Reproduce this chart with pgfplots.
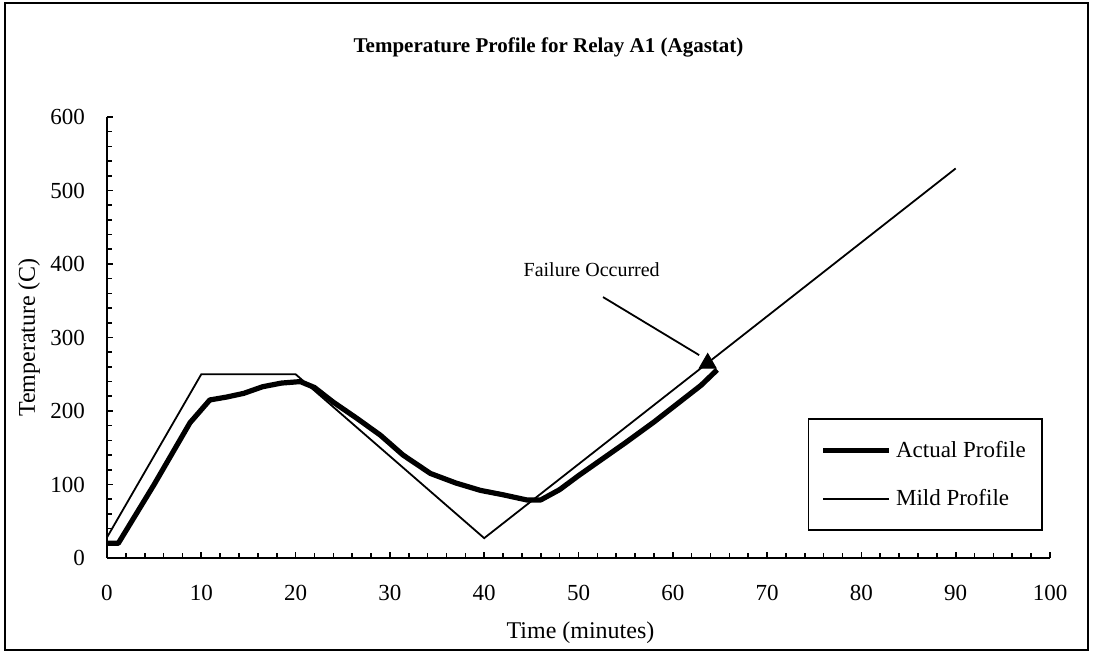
\documentclass[border=0pt]{standalone}
\usepackage{pgfplots}
\pgfplotsset{compat=1.18}
\usepackage{fontspec}
\setmainfont{Liberation Serif}
\begin{document}
\begin{tikzpicture}
\begin{axis}[
  scale only axis, width=471.5pt, height=220.5pt,
  xmin=0, xmax=100, ymin=0, ymax=600,
  axis x line*=bottom, axis y line*=left,
  axis line style={line width=1.1pt, -},
  xtick={0,10,...,100}, ytick={0,100,...,600},
  minor x tick num=4, minor y tick num=4,
  tick align=inside, major tick length=3pt, minor tick length=2.5pt,
  every tick/.style={line width=0.8pt, black},
  ticklabel style={font=\fontsize{11.5}{13}\selectfont},
  /pgf/number format/assume math mode=true,
  xticklabel style={yshift=-10pt},
  yticklabel style={xshift=-7.5pt},
  xlabel={Time (minutes)}, ylabel={Temperature (C)},
  label style={font=\fontsize{12}{14}\selectfont},
  xlabel style={at={([xshift=1pt,yshift=-37.5pt]rel axis cs:0.5,0)}, anchor=center},
  ylabel style={at={([xshift=-39pt]rel axis cs:0,0.5)}, anchor=center},
  clip=false,
  legend style={at={(rel axis cs:0.9926,0.0612)}, anchor=south east, draw=black, line width=0.8pt,
    font=\fontsize{11.5}{13}\selectfont, inner xsep=6.25pt, inner ysep=9pt, row sep=10.5pt,
    cells={anchor=west}},
  legend image code/.code={\draw[#1] (0pt,0pt) -- (33pt,0pt);},
]
\addplot[black, line width=2.6pt, line join=round] coordinates {
(0,20) (1.2,20) (5,100) (8.8,184) (10.9,215) (12.7,219) (14.5,224) (16.5,233) (18.5,238) (20.5,240)
(22,232) (24,212) (26.5,190) (29,167) (31.4,140) (34.3,115) (37,102) (39.6,92) (42,86) (44.5,79)
(46,79) (48,93) (50,112) (52,130) (55,157) (58,185) (61,215) (63,235) (64.7,256)
};
\addlegendentry{Actual Profile}
\addplot[black, line width=0.9pt] coordinates {
(0,28) (10,250) (20,250) (40,27) (90,530)
};
\addlegendentry{Mild Profile}
\addplot[only marks, mark=triangle*, mark size=4.9pt, black, forget plot] coordinates {(63.7,265)};
\draw[line width=0.9pt] (axis cs:52.6,355) -- (axis cs:62.8,276);
\node[font=\fontsize{10}{12}\selectfont] at (axis cs:51.4,392) {Failure Occurred};
\node[font=\bfseries\fontsize{10.5}{13}\selectfont] at ([xshift=-15pt,yshift=35pt]rel axis cs:0.5,1) {Temperature Profile for Relay A1 (Agastat)};
\draw[line width=1pt] ([xshift=-51pt,yshift=-46pt]rel axis cs:0,0) rectangle ([xshift=19pt,yshift=57pt]rel axis cs:1,1);
\path ([xshift=-53.5pt,yshift=-49pt]rel axis cs:0,0) rectangle ([xshift=21.5pt,yshift=58.5pt]rel axis cs:1,1);
\end{axis}
\end{tikzpicture}
\end{document}
